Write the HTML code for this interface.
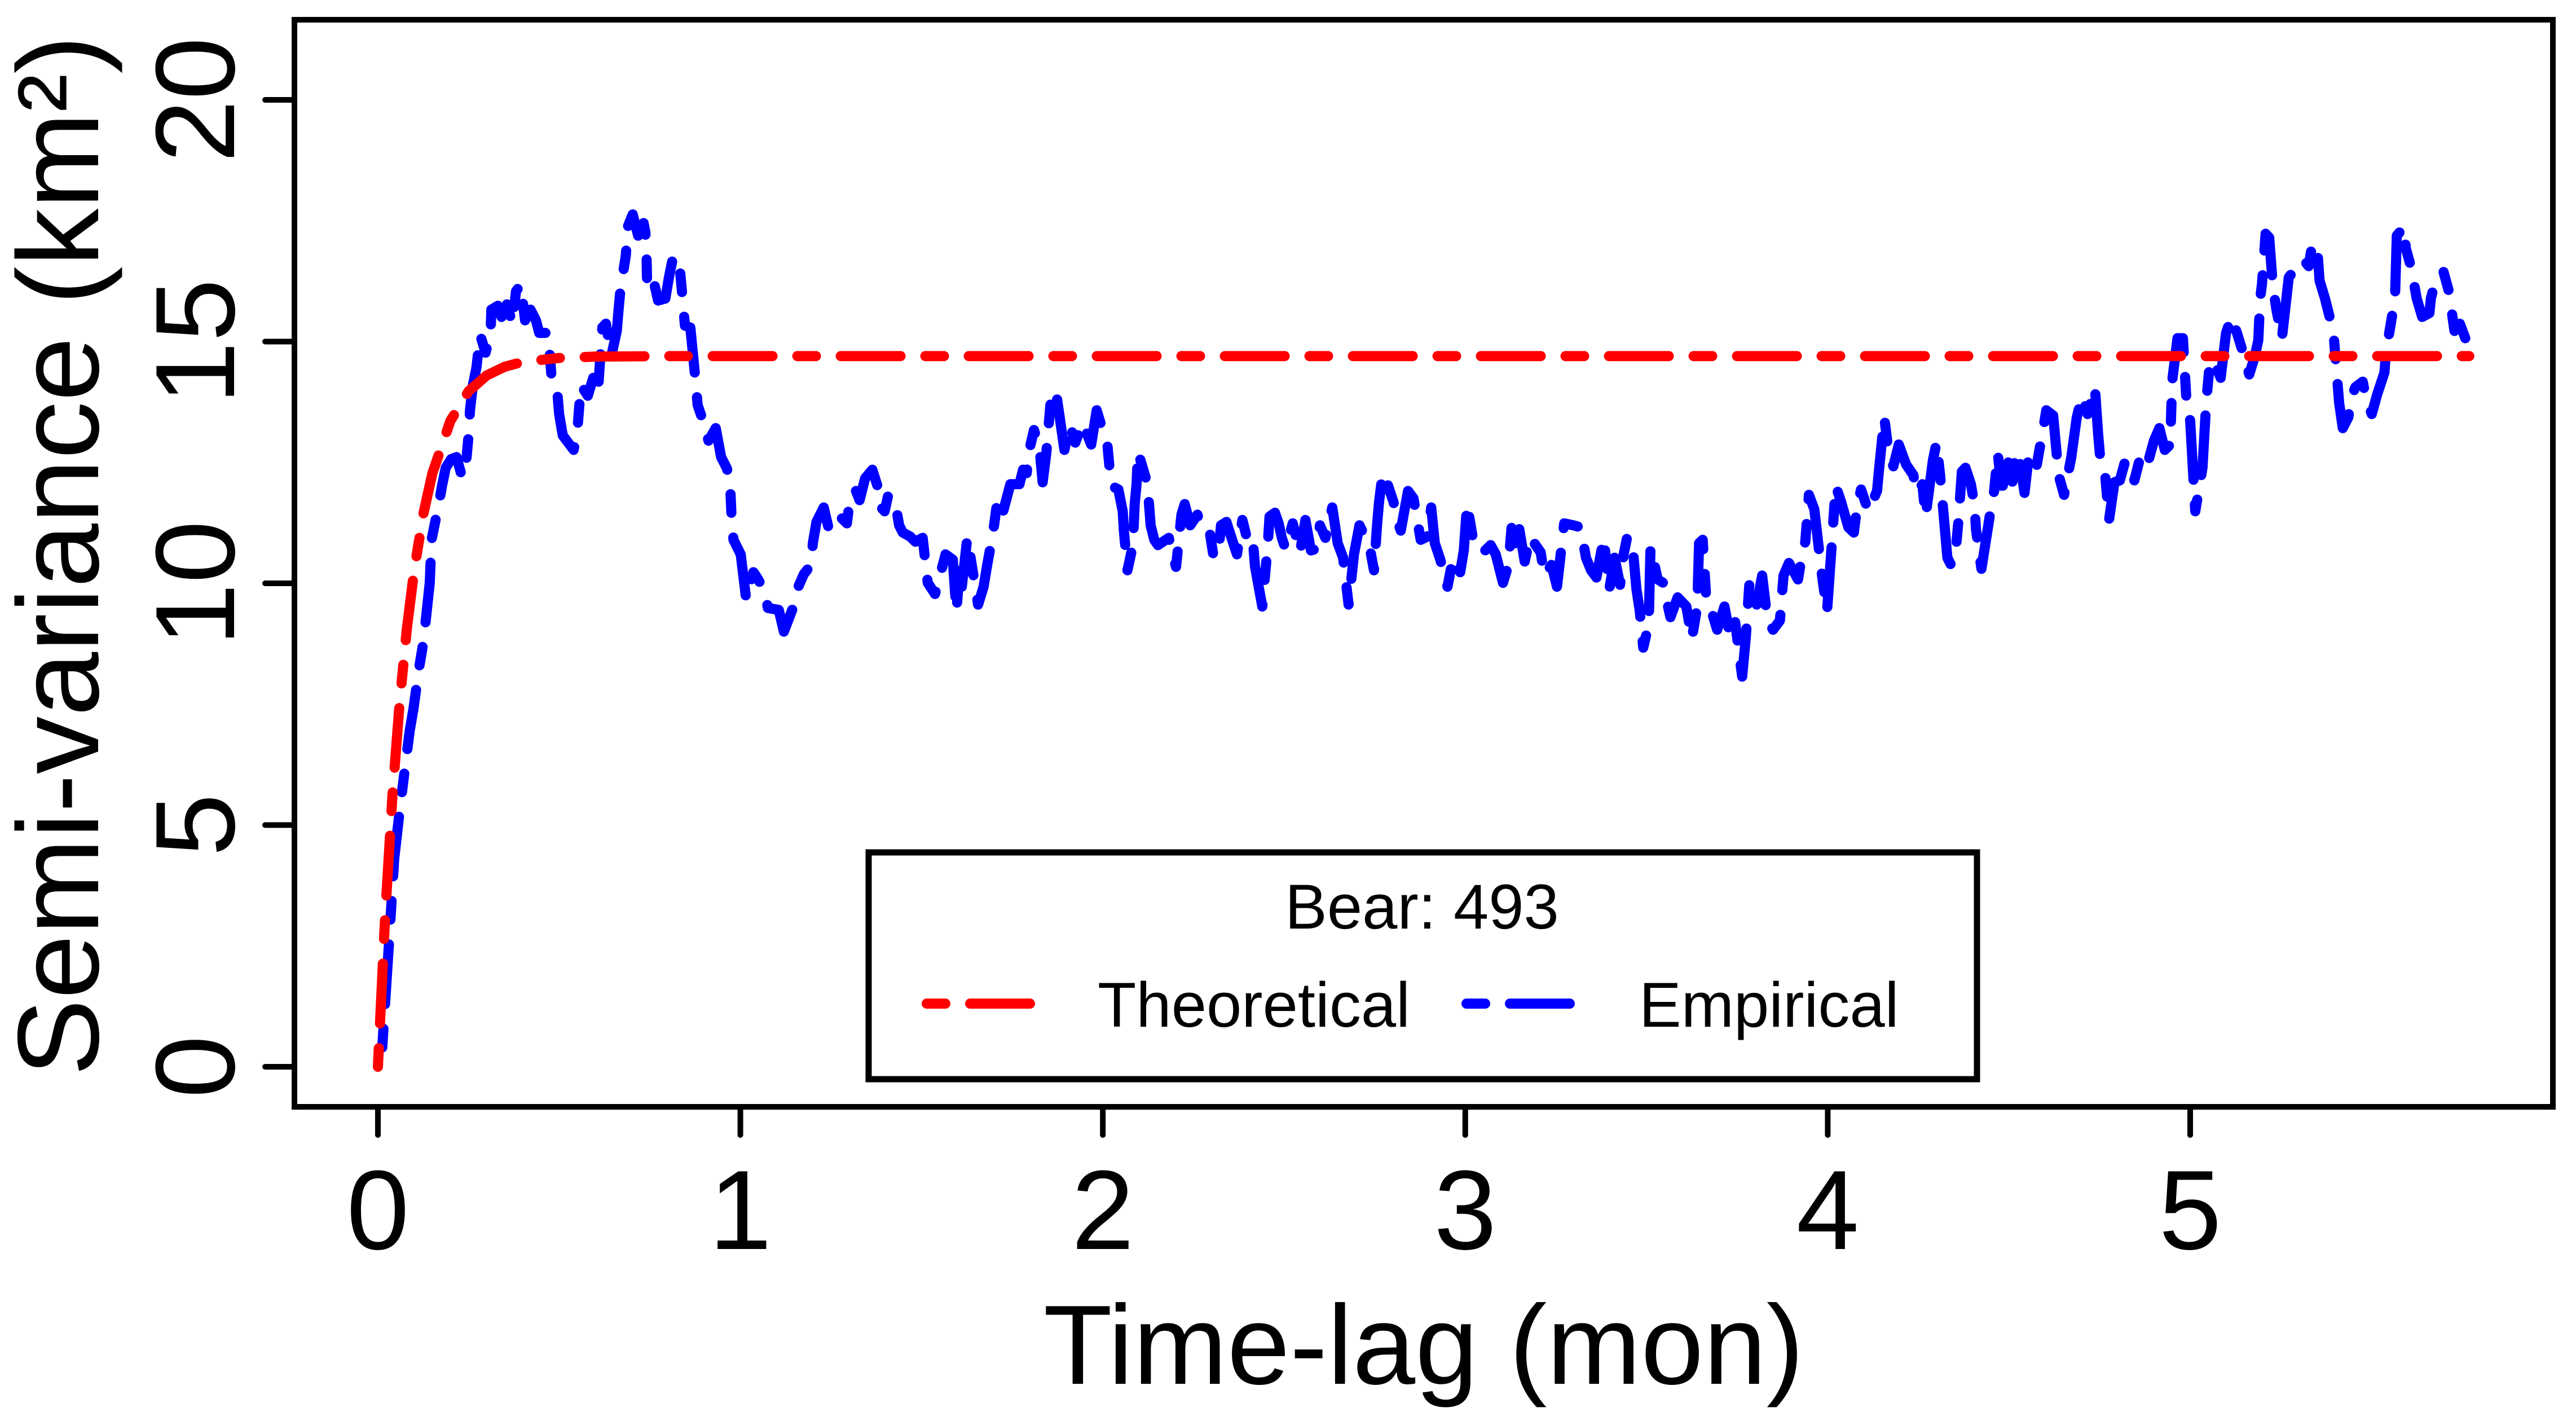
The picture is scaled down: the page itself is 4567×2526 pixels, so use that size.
<!DOCTYPE html>
<html><head><meta charset="utf-8"><title>Semi-variance chart</title>
<style>html,body{margin:0;padding:0;background:#fff}svg{display:block}text{font-family:"Liberation Sans",Arial,sans-serif;fill:#000}</style>
</head><body>
<svg id="chart" width="4567" height="2526" viewBox="0 0 4567 2526" xmlns="http://www.w3.org/2000/svg">
<rect width="4567" height="2526" fill="#fff"/>
<g id="marks"></g>
<rect x="522" y="35" width="4004" height="1927" fill="none" stroke="#000" stroke-width="10"/>
<g id="axes"></g>
<text x="2524" y="2453" font-size="200" text-anchor="middle">Time-lag (mon)</text>
<text transform="translate(174,985) rotate(-90)" font-size="205" text-anchor="middle">Semi-variance (km²)</text>
<g>
<rect x="1540" y="1511" width="1965" height="402" fill="#fff" stroke="#000" stroke-width="11"/>
<text x="2521" y="1646" font-size="112" text-anchor="middle">Bear: 493</text>
<line x1="1643" y1="1779" x2="1826" y2="1779" stroke="#ff0000" stroke-width="18" stroke-linecap="round" stroke-dasharray="33 44 106 44"/>
<text x="1946" y="1820" font-size="112">Theoretical</text>
<line x1="2600" y1="1779" x2="2783" y2="1779" stroke="#0000ff" stroke-width="18" stroke-linecap="round" stroke-dasharray="33 44 106 44"/>
<text x="2906" y="1820" font-size="112">Empirical</text>
</g>
</svg>
<script>
const xTicks = [0,1,2,3,4,5];
const yTicks = [0,5,10,15,20];
const theoT = [0,0.02,0.04,0.06,0.08,0.1,0.125,0.15,0.2,0.25,0.3,0.35,0.4,0.5,0.6,0.8,5.77];
const theoV = [0,3.13,5.60,7.54,9.07,10.27,11.42,12.27,13.36,13.97,14.30,14.48,14.58,14.66,14.69,14.70,14.70];
const empT = [0.012,0.03,0.045,0.06,0.075,0.088,0.098,0.113,0.123,0.128,0.143,0.148,0.158,0.168,0.177,0.187,0.202,0.217,0.232,0.242,0.252,0.254,0.262,0.272,0.282,0.297,0.311,0.313,0.331,0.341,0.356,0.371,0.381,0.394,0.406,0.421,0.436,0.445,0.470,0.480,0.495,0.500,0.510,0.540,0.550,0.560,0.579,0.594,0.609,0.619,0.629,0.644,0.659,0.664,0.669,0.684,0.689,0.703,0.718,0.733,0.738,0.741,0.743,0.763,0.773,0.793,0.803,0.813,0.830,0.837,0.842,0.847,0.862,0.877,0.882,0.897,0.912,0.932,0.947,0.962,0.971,0.976,0.981,1.001,1.016,1.036,1.046,1.066,1.076,1.106,1.120,1.145,1.160,1.175,1.195,1.200,1.210,1.230,1.244,1.259,1.279,1.294,1.304,1.319,1.329,1.344,1.364,1.378,1.383,1.398,1.408,1.428,1.438,1.448,1.468,1.483,1.503,1.517,
1.537,1.552,1.566,1.586,1.596,1.606,1.611,1.626,1.636,1.656,1.671,1.681,1.691,1.700,1.710,1.725,1.745,1.770,1.780,1.790,1.795,1.810,1.825,1.834,1.844,1.849,1.854,1.859,1.874,1.894,1.909,1.924,1.944,1.968,1.983,1.998,2.013,2.023,2.043,2.055,2.058,2.068,2.083,2.088,2.093,2.097,2.122,2.127,2.132,2.142,2.152,2.182,2.192,2.202,2.217,2.226,2.241,2.261,2.276,2.296,2.306,2.321,2.326,2.341,2.355,2.370,2.385,2.405,2.415,2.420,2.440,2.455,2.460,2.475,2.485,2.494,2.504,2.524,2.544,2.559,2.574,2.589,2.599,2.614,2.633,2.648,2.663,2.678,2.693,2.708,2.723,2.738,2.748,2.757,2.762,2.772,2.787,2.802,2.812,2.822,2.842,2.857,2.877,2.896,2.906,2.916,2.931,2.951,2.966,2.986,2.996,
3.005,3.020,3.045,3.055,3.070,3.084,3.104,3.119,3.129,3.139,3.149,3.164,3.179,3.194,3.208,3.218,3.238,3.253,3.273,3.298,3.318,3.333,3.347,3.362,3.372,3.382,3.397,3.412,3.427,3.437,3.447,3.462,3.472,3.481,3.491,3.506,3.511,3.531,3.546,3.556,3.566,3.586,3.610,3.625,3.640,3.645,3.655,3.665,3.680,3.695,3.715,3.730,3.744,3.764,3.774,3.784,3.804,3.819,3.834,3.849,3.868,3.878,3.893,3.918,3.928,3.938,3.948,3.963,3.983,3.998,4.012,4.022,4.037,4.057,4.072,4.082,4.092,4.112,4.136,4.141,4.156,4.166,4.181,4.196,4.216,4.236,4.246,4.261,4.270,4.290,4.300,4.310,4.315,4.330,4.340,4.355,4.360,4.370,4.380,4.395,4.405,4.409,4.424,4.439,4.449,4.459,4.469,4.479,
4.483,4.498,4.508,4.518,4.528,4.543,4.553,4.573,4.583,4.593,4.603,4.622,4.637,4.652,4.672,4.687,4.702,4.717,4.737,4.746,4.751,4.766,4.776,4.791,4.806,4.821,4.846,4.866,4.885,4.900,4.915,4.930,4.945,4.950,4.965,4.980,4.990,5.000,5.014,5.024,5.034,5.044,5.054,5.064,5.084,5.099,5.114,5.129,5.143,5.163,5.178,5.188,5.193,5.198,5.208,5.218,5.228,5.238,5.253,5.272,5.292,5.312,5.327,5.337,5.352,5.357,5.372,5.387,5.397,5.411,5.421,5.436,5.446,5.456,5.476,5.486,5.501,5.516,5.536,5.540,5.555,5.565,5.570,5.590,5.595,5.610,5.625,5.640,5.660,5.664,5.679,5.699,5.714,5.729,5.744,5.759];
const empV = [0.4,2.5,4.3,5.3,6.2,6.96,7.40,8.22,8.67,8.96,10.01,10.90,11.27,11.64,12.02,12.39,12.57,12.61,12.20,12.39,13.21,13.58,14.10,14.47,15.14,14.77,15.18,15.66,15.74,15.51,15.77,15.37,16.04,16.18,15.44,15.66,15.44,15.18,15.18,14.17,13.95,13.50,13.06,12.76,13.13,14.10,13.88,14.25,14.17,15.29,15.37,14.70,15.22,15.66,16.07,16.78,17.37,17.63,17.19,17.45,17.26,16.82,16.04,16.18,15.85,15.89,16.33,16.70,16.74,16.18,15.77,15.33,15.29,14.14,13.69,13.36,12.95,13.21,12.61,12.39,12.17,11.31,10.90,10.60,9.67,10.23,10.12,9.86,9.49,9.45,9.00,9.49,9.93,10.19,10.38,10.83,11.27,11.57,11.12,11.38,11.35,11.24,11.87,11.91,11.72,12.17,12.35,12.02,11.61,11.49,11.83,11.64,11.20,11.05,10.97,10.86,10.94,10.01,
9.78,10.19,10.60,10.49,9.41,10.38,9.93,10.94,10.49,9.56,9.93,10.38,10.79,11.20,11.76,11.49,12.05,12.05,12.35,12.28,12.69,13.17,12.83,12.09,12.69,13.13,13.58,13.99,13.80,12.76,13.28,12.91,13.32,12.87,13.58,13.21,12.83,12.02,11.94,11.49,11.09,10.27,10.79,11.64,12.05,12.72,12.09,11.68,11.20,10.90,10.79,10.94,10.60,10.34,11.42,11.64,11.20,11.42,11.05,11.01,10.53,10.79,11.20,11.27,10.94,10.60,11.31,10.71,10.79,10.34,9.52,10.79,11.38,11.46,11.24,10.94,10.71,11.24,10.64,11.31,10.68,10.71,11.20,10.94,11.57,10.83,10.53,9.56,10.60,11.20,10.97,10.68,10.27,11.24,11.68,12.28,12.02,11.68,11.31,11.09,11.91,11.76,10.90,10.97,11.57,10.83,10.49,9.93,10.53,10.23,10.68,
11.64,10.97,10.97,10.68,10.79,10.60,10.01,10.38,11.27,10.83,11.12,10.45,10.97,10.79,10.64,10.16,10.38,9.93,11.24,11.20,11.16,10.53,10.27,10.12,10.53,10.94,9.86,10.53,9.97,10.60,10.97,10.75,9.89,9.45,8.67,9.15,10.75,10.08,10.01,9.63,9.30,9.71,9.52,8.85,9.52,10.83,10.90,9.67,9.41,9.04,9.52,8.93,9.23,8.07,8.89,10.01,9.56,10.16,9.23,9.04,9.23,10.16,10.42,10.08,10.53,10.86,11.83,11.53,10.23,9.41,10.90,12.02,11.68,11.16,11.05,11.64,11.94,11.49,11.91,12.31,13.43,12.83,12.42,12.87,12.46,12.24,11.87,12.05,11.38,12.54,12.91,12.24,11.83,10.53,10.38,10.83,11.24,12.31,12.39,12.05,11.61,11.12,10.30,11.01,11.49,11.91,12.69,12.02,
12.02,12.50,11.98,12.72,12.61,11.87,12.54,12.28,12.72,13.13,13.58,13.47,12.24,11.83,12.61,13.43,13.88,13.50,14.06,13.09,12.65,12.20,11.31,12.09,12.13,12.54,12.13,12.72,12.54,12.95,13.21,12.76,12.87,14.17,15.07,15.07,13.73,13.36,11.49,11.94,12.39,13.73,14.55,14.62,14.25,15.18,15.51,15.18,14.84,14.32,14.69,15.03,15.89,16.18,17.23,17.15,16.15,15.66,15.07,16.33,16.52,16.70,16.56,17.04,16.78,16.26,15.89,15.44,15.03,13.73,13.21,13.43,13.88,14.06,14.17,13.80,13.50,13.91,14.36,14.77,15.44,15.89,17.19,17.37,16.93,16.52,15.89,15.51,15.59,15.89,16.33,16.44,16.03,15.22,15.37,15.07];

const NS = 'http://www.w3.org/2000/svg';
const X0 = 670, XU = 642.6, Y0 = 1891, YU = 85.7;
function xs(t){ return X0 + t * XU; }
function ys(v){ return Y0 - v * YU; }
const marks = document.getElementById('marks');
const axes = document.getElementById('axes');

function makePath(ts, vs, color){
  let d = '';
  for (let i = 0; i < ts.length; i++) {
    d += (i ? 'L' : 'M') + xs(ts[i]).toFixed(1) + ' ' + ys(vs[i]).toFixed(1);
  }
  const p = document.createElementNS(NS, 'path');
  p.setAttribute('d', d);
  p.setAttribute('fill', 'none');
  p.setAttribute('stroke', color);
  p.setAttribute('stroke-width', '18');
  p.setAttribute('stroke-linecap', 'round');
  p.setAttribute('stroke-linejoin', 'round');
  p.setAttribute('stroke-dasharray', '33 44 106 44');
  return p;
}
const emp = makePath(empT, empV, '#0000ff');


marks.appendChild(emp);
const theo = makePath(theoT, theoV, '#ff0000');


marks.appendChild(theo);

xTicks.forEach(function(t){
  const l = document.createElementNS(NS, 'line');
  l.setAttribute('x1', xs(t)); l.setAttribute('x2', xs(t));
  l.setAttribute('y1', 1962); l.setAttribute('y2', 2012);
  l.setAttribute('stroke', '#000'); l.setAttribute('stroke-width', '10'); l.setAttribute('stroke-linecap', 'round');
  
  
  axes.appendChild(l);
  const tx = document.createElementNS(NS, 'text');
  tx.setAttribute('x', xs(t)); tx.setAttribute('y', 2214);
  tx.setAttribute('font-size', '200'); tx.setAttribute('text-anchor', 'middle');
  tx.textContent = String(t);
  
  
  axes.appendChild(tx);
});
yTicks.forEach(function(v){
  const l = document.createElementNS(NS, 'line');
  l.setAttribute('x1', 470); l.setAttribute('x2', 522);
  l.setAttribute('y1', ys(v)); l.setAttribute('y2', ys(v));
  l.setAttribute('stroke', '#000'); l.setAttribute('stroke-width', '10'); l.setAttribute('stroke-linecap', 'round');
  
  
  axes.appendChild(l);
  const tx = document.createElementNS(NS, 'text');
  tx.setAttribute('transform', 'translate(415,' + ys(v) + ') rotate(-90)');
  tx.setAttribute('font-size', '200'); tx.setAttribute('text-anchor', 'middle');
  tx.textContent = String(v);
  
  
  axes.appendChild(tx);
});
</script>
</body></html>
